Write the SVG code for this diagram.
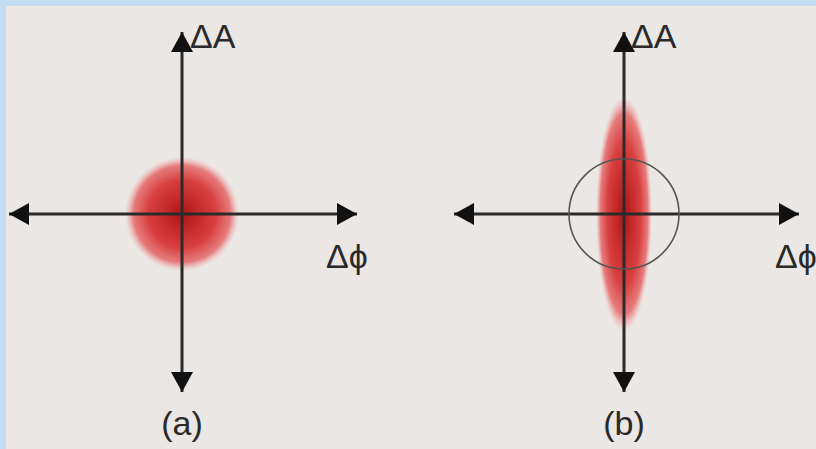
<svg xmlns="http://www.w3.org/2000/svg" width="816" height="449" viewBox="0 0 816 449">
<style>
.ax{stroke:#2b2b2b;stroke-width:3;fill:none}
.lbl{font-family:"Liberation Sans",Arial,sans-serif;font-size:34px;fill:#2a2a2a}
</style>
<defs>
<radialGradient id="blob" cx="0.5" cy="0.5" r="0.5">
<stop offset="0" stop-color="#b01414"/>
<stop offset="0.6" stop-color="#d84040"/>
<stop offset="0.85" stop-color="#e46868" stop-opacity="0.85"/>
<stop offset="1" stop-color="#f0a0a0" stop-opacity="0"/>
</radialGradient>
<marker id="ah" viewBox="0 0 20 22" refX="20" refY="11" markerWidth="20" markerHeight="22" markerUnits="userSpaceOnUse" orient="auto">
<path d="M0,0 L20,11 L0,22 Z" fill="#111"/>
</marker>
</defs>
<rect x="0" y="0" width="816" height="449" fill="#ebe7e4"/>
<rect x="0" y="0" width="816" height="6" fill="#c4dcf1"/>
<rect x="0" y="0" width="6" height="449" fill="#c4dcf1"/>
<g id="blob-a"><circle cx="182" cy="214" r="57" fill="url(#blob)"/></g>
<g id="blob-b"><ellipse cx="624" cy="214" rx="28" ry="118" fill="url(#blob)"/></g>
<g id="connectors">
<line class="ax" x1="182" y1="214" x2="182" y2="32" marker-end="url(#ah)"/>
<line class="ax" x1="182" y1="214" x2="182" y2="392" marker-end="url(#ah)"/>
<line class="ax" x1="182" y1="214" x2="9" y2="214" marker-end="url(#ah)"/>
<line class="ax" x1="182" y1="214" x2="357" y2="214" marker-end="url(#ah)"/>
<line class="ax" x1="624" y1="214" x2="624" y2="32" marker-end="url(#ah)"/>
<line class="ax" x1="624" y1="214" x2="624" y2="392" marker-end="url(#ah)"/>
<line class="ax" x1="624" y1="214" x2="454" y2="214" marker-end="url(#ah)"/>
<line class="ax" x1="624" y1="214" x2="799" y2="214" marker-end="url(#ah)"/>
</g>
<g id="circle-b"><circle cx="624" cy="214" r="55" fill="none" stroke="#555" stroke-width="1.6"/></g>
<g id="labels">
<text class="lbl" x="190" y="48">ΔA</text>
<text class="lbl" x="631" y="48">ΔA</text>
<text class="lbl" x="326" y="268">Δϕ</text>
<text class="lbl" x="775" y="268">Δϕ</text>
<text class="lbl" x="182" y="435" text-anchor="middle">(a)</text>
<text class="lbl" x="624" y="435" text-anchor="middle">(b)</text>
</g>
</svg>
